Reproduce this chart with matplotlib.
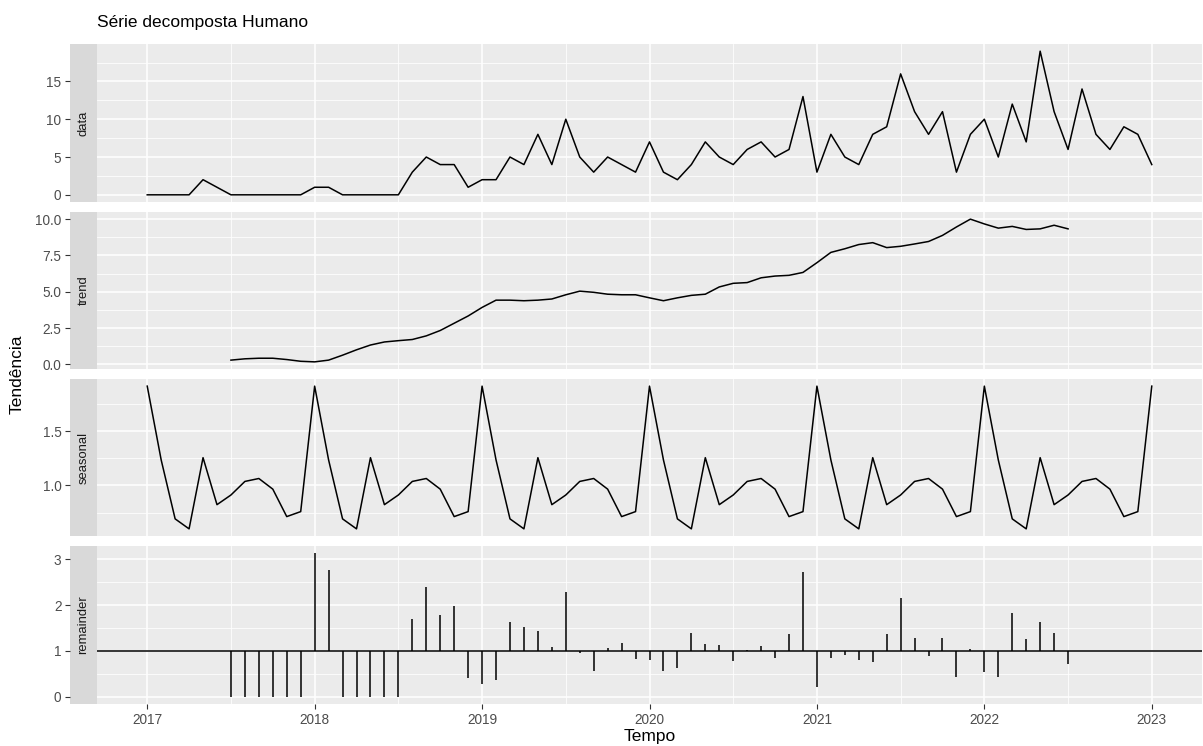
import numpy as np
import matplotlib
matplotlib.use("Agg")
import matplotlib.pyplot as plt

plt.rcParams["font.family"] = ["Liberation Sans", "DejaVu Sans"]

# monthly counts, Jan 2017 .. Jan 2023
data = [0, 0, 0, 0, 2, 1, 0, 0, 0, 0, 0, 0,
        1, 1, 0, 0, 0, 0, 0, 3, 5, 4, 4, 1,
        2, 2, 5, 4, 8, 4, 10, 5, 3, 5, 4, 3,
        7, 3, 2, 4, 7, 5, 4, 6, 7, 5, 6, 13,
        3, 8, 5, 4, 8, 9, 16, 11, 8, 11, 3, 8,
        10, 5, 12, 7, 19, 11, 6, 14, 8, 6, 9, 8,
        4]

# trend, Jul 2017 .. Jul 2022
trend = [0.29, 0.38, 0.42, 0.42, 0.33, 0.21, 0.17, 0.29, 0.63, 1.00, 1.33, 1.54,
         1.63, 1.71, 1.96, 2.33, 2.83, 3.33, 3.92, 4.42, 4.42, 4.38, 4.42, 4.50,
         4.79, 5.04, 4.96, 4.83, 4.79, 4.79, 4.58, 4.38, 4.58, 4.75, 4.83, 5.33,
         5.58, 5.63, 5.96, 6.08, 6.13, 6.33, 7.00, 7.71, 7.96, 8.25, 8.38, 8.04,
         8.13, 8.29, 8.46, 8.88, 9.46, 10.00, 9.67, 9.38, 9.50, 9.29, 9.33, 9.58,
         9.33]

# seasonal factor per month (Jan..Dec)
season = [1.915, 1.235, 0.692, 0.600, 1.256, 0.823, 0.912, 1.037, 1.064, 0.966,
          0.713, 0.759]

# remainder, Jul 2017 .. Jul 2022
remainder = [0, 0, 0, 0, 0, 0, 3.13, 2.77, 0, 0, 0, 0,
             0, 1.69, 2.40, 1.78, 1.98, 0.40, 0.27, 0.37, 1.64, 1.52, 1.44, 1.08,
             2.29, 0.96, 0.57, 1.07, 1.17, 0.83, 0.80, 0.56, 0.63, 1.40, 1.15, 1.14,
             0.79, 1.03, 1.10, 0.85, 1.37, 2.71, 0.22, 0.84, 0.91, 0.81, 0.76, 1.36,
             2.16, 1.28, 0.89, 1.28, 0.44, 1.05, 0.54, 0.43, 1.83, 1.26, 1.62, 1.40,
             0.71]

year_ticks = [2017, 2018, 2019, 2020, 2021, 2022, 2023]

t_all = 2017 + np.arange(len(data)) / 12
t_mid = t_all[6:6 + len(trend)]
seasonal = [season[i % 12] for i in range(len(data))]

W, H = 1203, 746
fig = plt.figure(figsize=(W / 100, H / 100), dpi=100)


def rect(x0, y0, x1, y1):
    return [x0 / W, 1 - y1 / H, (x1 - x0) / W, (y1 - y0) / H]


rows = [(44, 202), (212, 369), (379, 536), (546, 704)]
names = ["data", "trend", "seasonal", "remainder"]
majors = [[0, 5, 10, 15], [0, 2.5, 5, 7.5, 10], [1.0, 1.5], [0, 1, 2, 3]]
labels = [["0", "5", "10", "15"], ["0.0", "2.5", "5.0", "7.5", "10.0"],
          ["1.0", "1.5"], ["0", "1", "2", "3"]]
series = [(t_all, data), (t_mid, trend), (t_all, seasonal), (t_mid, remainder)]

xlo, xhi = 2017 - 0.3, 2023 + 0.3
tick_fs = 9.8

for i, (y0, y1) in enumerate(rows):
    ax = fig.add_axes(rect(97, y0, 1202, y1))
    st = fig.add_axes(rect(70, y0, 97, y1))
    x, y = series[i]
    lo, hi = min(y), max(y)
    pad = 0.05 * (hi - lo)
    ylim = (lo - pad, hi + pad)

    ax.set_facecolor("#EBEBEB")
    ax.set_xlim(xlo, xhi)
    ax.set_ylim(*ylim)
    ax.set_xticks(year_ticks)
    ax.set_xticks([v + 0.5 for v in year_ticks[:-1]], minor=True)
    mj = majors[i]
    step = mj[1] - mj[0]
    mn = [m + step / 2 for m in [mj[0] - step] + mj]
    mn = [m for m in mn if ylim[0] < m < ylim[1]]
    ax.set_yticks(mj)
    ax.set_yticks(mn, minor=True)
    ax.grid(which="major", color="white", lw=1.1)
    ax.grid(which="minor", color="white", lw=0.55)
    ax.set_axisbelow(True)
    for s in ax.spines.values():
        s.set_visible(False)
    ax.tick_params(which="both", left=False, labelleft=False, length=0)

    if names[i] == "remainder":
        ax.axhline(1, color="black", lw=1.1)
        ax.vlines(x, 1, y, color="black", lw=1.1)
        ax.tick_params(axis="x", which="major", bottom=True, length=3.7,
                       color="#333333", width=0.8, labelsize=tick_fs,
                       labelcolor="#4D4D4D", pad=2.5)
    else:
        ax.plot(x, y, color="black", lw=1.1)
        ax.tick_params(axis="x", labelbottom=False)

    st.set_facecolor("#D9D9D9")
    st.set_xlim(0, 1)
    st.set_ylim(*ylim)
    st.set_xticks([])
    st.set_yticks(mj)
    st.set_yticklabels(labels[i])
    st.tick_params(axis="y", length=3.7, color="#333333", width=0.8,
                   labelsize=tick_fs, labelcolor="#4D4D4D", pad=2.5)
    for s in st.spines.values():
        s.set_visible(False)
    st.text(0.5, 0.5, names[i], rotation=90, ha="center", va="center",
            color="#1A1A1A", fontsize=9.4, transform=st.transAxes)

fig.text(97 / W, 1 - 22 / H, "Série decomposta Humano", fontsize=12.5,
         ha="left", va="center", color="black")
fig.text(17 / W, 1 - 374 / H, "Tendência", fontsize=12.5, rotation=90,
         ha="center", va="center", color="black")
fig.text(650 / W, 1 - 736 / H, "Tempo", fontsize=12.5, ha="center",
         va="center", color="black")

fig.savefig("out.png", dpi=100)
